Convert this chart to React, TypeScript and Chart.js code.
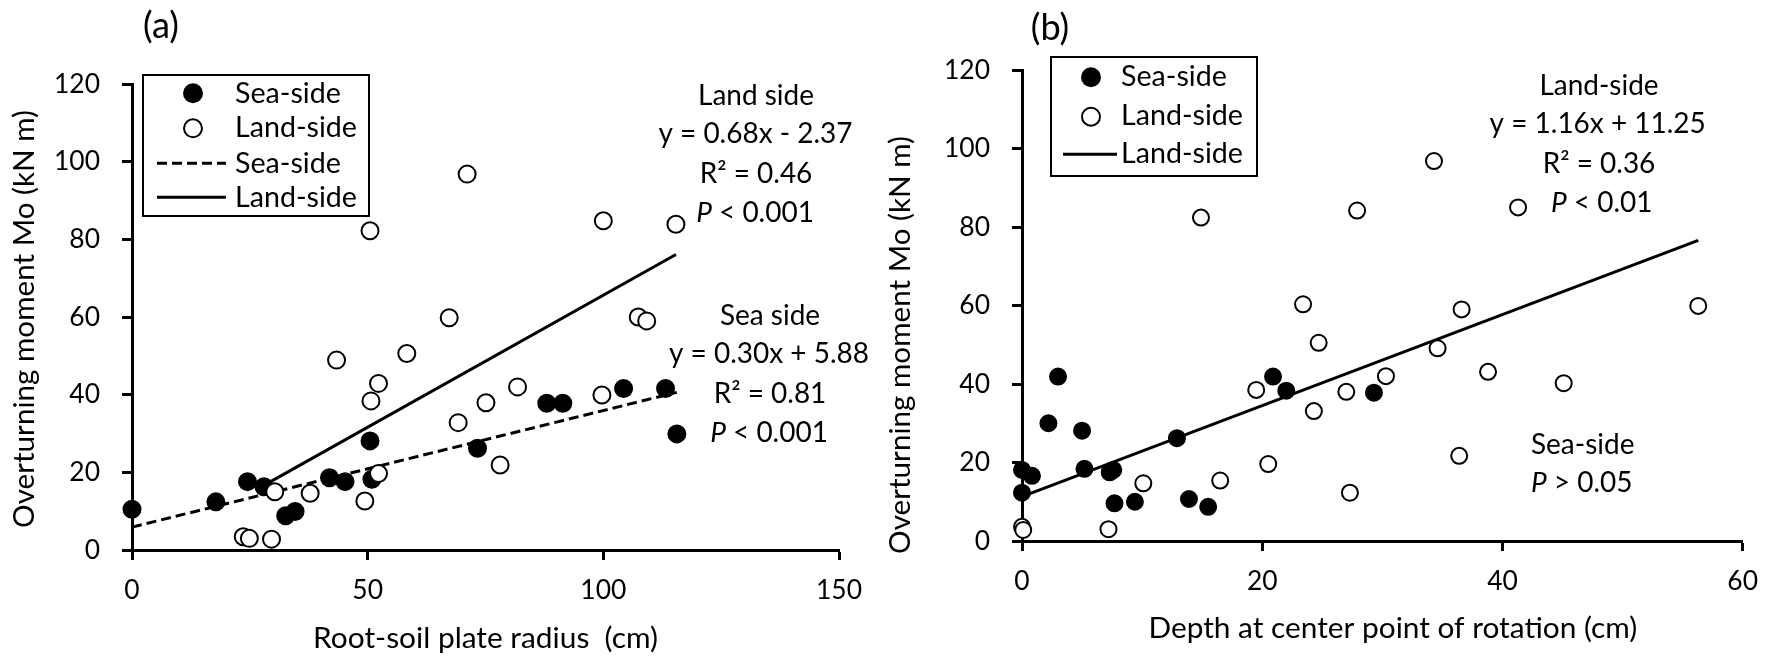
import React, { useEffect, useRef } from "react";
import { Chart, registerables } from "chart.js";

Chart.register(...registerables);

const FONT = "Lato";

// ---------- Panel (a): root-soil plate radius ----------
const seaRadius = [0, 17.8, 24.5, 28, 32.6, 34.6, 41.9, 45.2, 50.5, 50.9, 73.3, 88, 91.4, 104.3, 113.2, 115.6];
const seaMomentA = [10.5, 12.4, 17.6, 16.3, 8.8, 9.9, 18.6, 17.6, 28.1, 18.2, 26.2, 37.8, 37.8, 41.6, 41.6, 29.9];
const landRadius = [71.1, 50.5, 100, 115.4, 67.3, 107.4, 109.2, 58.3, 43.4, 52.3, 50.7, 81.8, 75.1, 99.7, 69.2, 78.1, 52.3, 49.4, 37.8, 30.3, 23.6, 24.9, 29.6];
const landMomentA = [96.8, 82.2, 84.8, 83.9, 59.8, 60, 59, 50.6, 48.9, 42.9, 38.4, 42, 37.9, 39.9, 32.8, 21.9, 19.7, 12.6, 14.6, 15, 3.4, 3.0, 2.8];
const seaFitRadius = [0, 115.6];
const seaFitMoment = [5.9, 40.6];
const landFitRadius = [29.4, 115.4];
const landFitMoment = [17.6, 76.1];
const radiusTicks = [0, 50, 100, 150];

// ---------- Panel (b): depth at center point of rotation ----------
const seaDepth = [0, 0.83, 0, 3.0, 2.2, 5.0, 5.2, 7.6, 7.3, 7.7, 9.4, 12.9, 13.9, 15.5, 20.9, 22.0, 29.3];
const seaMomentB = [18.1, 16.6, 12.3, 41.9, 30, 28.1, 18.4, 18.1, 17.5, 9.6, 10, 26.2, 10.7, 8.7, 41.9, 38.3, 37.8];
const landDepth = [0, 0.1, 7.2, 10.1, 16.5, 20.5, 19.5, 24.3, 24.7, 14.9, 23.4, 34.3, 27.9, 41.3, 56.3, 36.6, 34.6, 38.8, 45.1, 30.3, 27.0, 36.4, 27.3];
const landMomentB = [3.6, 2.8, 3.0, 14.7, 15.4, 19.6, 38.5, 33.1, 50.5, 82.4, 60.3, 96.8, 84.2, 85, 59.9, 59, 49.1, 43.1, 40.2, 42, 38.0, 21.7, 12.3];
const landFitDepth = [0, 56.3];
const landFitMomentB = [11.3, 76.6];
const depthTicks = [0, 20, 40, 60];

const momentTicks = [0, 20, 40, 60, 80, 100, 120];

const pts = (xs: number[], ys: number[]) => xs.map((x, i) => ({ x, y: ys[i] }));

let mctx: CanvasRenderingContext2D | null = null;
function fitSize(text: string, width: number): number {
  if (!mctx) mctx = document.createElement("canvas").getContext("2d");
  const c = mctx as CanvasRenderingContext2D;
  c.font = `100px ${FONT}`;
  return (100 * width) / c.measureText(text).width;
}

type Part = { text: string; italic?: boolean };

const decorPlugin = {
  id: "decor",
  afterDraw(chart: any, _args: any, opts: any) {
    const ctx: CanvasRenderingContext2D = chart.ctx;
    ctx.save();
    ctx.fillStyle = "#000";
    ctx.strokeStyle = "#000";
    ctx.textBaseline = "alphabetic";
    const lg = opts.legend;
    if (lg) {
      ctx.lineWidth = 2;
      ctx.strokeRect(lg.x, lg.y, lg.w, lg.h);
      lg.rows.forEach((row: any) => {
        const ds = chart.data.datasets[row.dataset];
        if (row.kind === "point") {
          ctx.beginPath();
          ctx.setLineDash([]);
          ctx.arc(lg.markerX, row.y, lg.markerR, 0, Math.PI * 2);
          ctx.fillStyle = ds.backgroundColor;
          ctx.fill();
          ctx.lineWidth = 2;
          ctx.strokeStyle = "#000";
          ctx.stroke();
        } else {
          ctx.beginPath();
          ctx.setLineDash(ds.borderDash || []);
          ctx.lineWidth = 3;
          ctx.moveTo(lg.lineX1, row.y);
          ctx.lineTo(lg.lineX2, row.y);
          ctx.stroke();
          ctx.setLineDash([]);
        }
        ctx.fillStyle = "#000";
        ctx.font = `${lg.size}px ${FONT}`;
        ctx.textAlign = "left";
        ctx.fillText(ds.label, lg.textX, row.base);
      });
    }
    (opts.texts || []).forEach((t: any) => {
      const parts: Part[] = t.parts;
      let total = 0;
      const widths = parts.map((p) => {
        ctx.font = `${p.italic ? "italic " : ""}${t.size}px ${FONT}`;
        const w = ctx.measureText(p.text).width;
        total += w;
        return w;
      });
      ctx.save();
      ctx.translate(t.x, t.y);
      if (t.rotate) ctx.rotate(-Math.PI / 2);
      let x = -total / 2;
      ctx.textAlign = "left";
      parts.forEach((p, i) => {
        ctx.font = `${p.italic ? "italic " : ""}${t.size}px ${FONT}`;
        ctx.fillText(p.text, x, 0);
        x += widths[i];
      });
      ctx.restore();
    });
    ctx.restore();
  },
};

function axis(min: number, max: number, ticks: number[], isX: boolean, fit: number, tickPad: number, tickSize: number) {
  return {
    type: "linear",
    position: isX ? "bottom" : "left",
    min,
    max,
    afterBuildTicks: (s: any) => {
      s.ticks = ticks.map((v) => ({ value: v }));
    },
    afterFit: (s: any) => {
      if (isX) s.height = fit;
      else s.width = fit;
    },
    border: { display: true, color: "#000", width: 3 },
    grid: {
      drawOnChartArea: false,
      drawTicks: true,
      tickLength: 10,
      tickWidth: 3,
      tickColor: "#000",
      color: "#000",
    },
    ticks: {
      color: "#000",
      padding: tickPad,
      font: { family: FONT, size: tickSize },
    },
    title: { display: false },
  };
}

function scatterSet(label: string, data: any[], filled: boolean, order: number, r: number) {
  return {
    label,
    data,
    order,
    clip: false,
    showLine: false,
    pointRadius: r,
    pointHoverRadius: r,
    pointBorderWidth: 2,
    borderColor: "#000",
    pointBorderColor: "#000",
    backgroundColor: filled ? "#000" : "#fff",
    pointBackgroundColor: filled ? "#000" : "#fff",
  };
}

function lineSet(label: string, data: any[], dash: number[], order: number) {
  return {
    label,
    data,
    order,
    clip: false,
    showLine: true,
    pointRadius: 0,
    borderColor: "#000",
    borderWidth: 3,
    borderDash: dash,
    backgroundColor: "#000",
    fill: false,
  };
}

const common = {
  responsive: false,
  animation: false as const,
  events: [] as any[],
};

function sizes() {
  return {
    tick: fitSize("120", 46),
    legend: fitSize("Land-side", 122),
    note: fitSize("y = 0.30x + 5.88", 200),
    xTitleA: fitSize("Root-soil plate radius  (cm)", 345),
    xTitleB: fitSize("Depth at center point of rotation (cm)", 489),
    yTitle: fitSize("Overturning moment Mo (kN m)", 418),
    panel: fitSize("(a)", 36),
  };
}

const Y_TITLE = "Overturning moment Mo (kN m)";

function configA(): any {
  const s = sizes();
  return {
    type: "scatter",
    data: {
      datasets: [
        scatterSet("Sea-side", pts(seaRadius, seaMomentA), true, 1, 8.5),
        scatterSet("Land-side", pts(landRadius, landMomentA), false, 0, 8.5),
        lineSet("Sea-side", pts(seaFitRadius, seaFitMoment), [10, 5], 2),
        lineSet("Land-side", pts(landFitRadius, landFitMoment), [], 2),
      ],
    },
    options: {
      ...common,
      layout: { padding: { left: 0, right: 41, top: 84, bottom: 0 } },
      scales: {
        x: axis(0, 150, radiusTicks, true, 107, 15, s.tick),
        y: axis(0, 120, momentTicks, false, 132, 22, s.tick),
      },
      plugins: {
        legend: { display: false },
        tooltip: { enabled: false },
        decor: {
          legend: {
            x: 143, y: 75, w: 226, h: 141, markerX: 193, markerR: 9, lineX1: 157, lineX2: 226, textX: 235, size: s.legend,
            rows: [
              { dataset: 0, kind: "point", y: 93.3, base: 102.7 },
              { dataset: 1, kind: "point", y: 128.3, base: 137.3 },
              { dataset: 2, kind: "line", y: 163.3, base: 172.7 },
              { dataset: 3, kind: "line", y: 197.3, base: 207.3 },
            ],
          },
          texts: [
            { parts: [{ text: "(a)" }], x: 161, y: 38, size: s.panel },
            { parts: [{ text: Y_TITLE }], x: 33.5, y: 319, size: s.yTitle, rotate: true },
            { parts: [{ text: "Root-soil plate radius  (cm)" }], x: 485.5, y: 648, size: s.xTitleA },
            { parts: [{ text: "Land side" }], x: 756, y: 105, size: s.note },
            { parts: [{ text: "y = 0.68x - 2.37" }], x: 755.5, y: 143.3, size: s.note },
            { parts: [{ text: "R² = 0.46" }], x: 756, y: 183.3, size: s.note },
            { parts: [{ text: "P", italic: true }, { text: " < 0.001" }], x: 755, y: 221.7, size: s.note },
            { parts: [{ text: "Sea side" }], x: 770, y: 325, size: s.note },
            { parts: [{ text: "y = 0.30x + 5.88" }], x: 769, y: 363.3, size: s.note },
            { parts: [{ text: "R² = 0.81" }], x: 770, y: 403.3, size: s.note },
            { parts: [{ text: "P", italic: true }, { text: " < 0.001" }], x: 769, y: 441.7, size: s.note },
          ],
        },
      },
    },
    plugins: [decorPlugin],
  };
}

function configB(): any {
  const s = sizes();
  return {
    type: "scatter",
    data: {
      datasets: [
        scatterSet("Sea-side", pts(seaDepth, seaMomentB), true, 1, 8),
        scatterSet("Land-side", pts(landDepth, landMomentB), false, 0, 8),
        lineSet("Land-side", pts(landFitDepth, landFitMomentB), [], 2),
      ],
    },
    options: {
      ...common,
      layout: { padding: { left: 0, right: 28, top: 70, bottom: 0 } },
      scales: {
        x: axis(0, 60, depthTicks, true, 116, 15, s.tick),
        y: axis(0, 120, momentTicks, false, 142, 22, s.tick),
      },
      plugins: {
        legend: { display: false },
        tooltip: { enabled: false },
        decor: {
          legend: {
            x: 171, y: 57, w: 206, h: 119, markerX: 211, markerR: 9, lineX1: 183, lineX2: 237, textX: 241, size: s.legend,
            rows: [
              { dataset: 0, kind: "point", y: 77.3, base: 86 },
              { dataset: 1, kind: "point", y: 116.7, base: 125 },
              { dataset: 2, kind: "line", y: 154.3, base: 163.3 },
            ],
          },
          texts: [
            { parts: [{ text: "(b)" }], x: 170, y: 40, size: s.panel },
            { parts: [{ text: Y_TITLE }], x: 30, y: 345, size: s.yTitle, rotate: true },
            { parts: [{ text: "Depth at center point of rotation (cm)" }], x: 512.8, y: 638, size: s.xTitleB },
            { parts: [{ text: "Land-side" }], x: 719, y: 95, size: s.note },
            { parts: [{ text: "y = 1.16x + 11.25" }], x: 717.7, y: 133.3, size: s.note },
            { parts: [{ text: "R² = 0.36" }], x: 719, y: 172.7, size: s.note },
            { parts: [{ text: "P", italic: true }, { text: " < 0.01" }], x: 721.7, y: 211.7, size: s.note },
            { parts: [{ text: "Sea-side" }], x: 702.7, y: 454, size: s.note },
            { parts: [{ text: "P", italic: true }, { text: " > 0.05" }], x: 701.7, y: 492.3, size: s.note },
          ],
        },
      },
    },
    plugins: [decorPlugin],
  };
}

function Panel(props: { make: () => any; left: number; width: number }) {
  const ref = useRef<HTMLCanvasElement>(null);
  useEffect(() => {
    const chart = new Chart(ref.current as HTMLCanvasElement, props.make());
    return () => chart.destroy();
  }, []);
  return (
    <div style={{ position: "absolute", left: props.left, top: 0, width: props.width, height: 657 }}>
      <canvas ref={ref} width={props.width} height={657} style={{ display: "block" }} />
    </div>
  );
}

export default function App() {
  return (
    <div style={{ position: "fixed", left: 0, top: 0, width: 1773, height: 657, background: "#fff" }}>
      <Panel make={configA} left={0} width={880} />
      <Panel make={configB} left={880} width={893} />
    </div>
  );
}
